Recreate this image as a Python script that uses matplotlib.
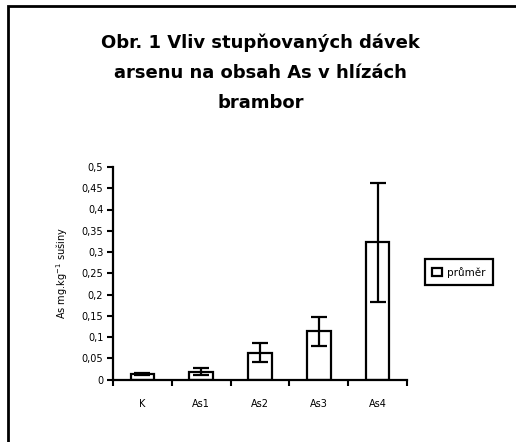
import numpy as np
from matplotlib import pyplot as plt
from matplotlib.patches import Rectangle
from matplotlib.ticker import FuncFormatter, FixedLocator

kategorie = ["K", "As1", "As2", "As3", "As4"]
prumer = [0.013, 0.018, 0.063, 0.113, 0.323]
chyba = [0.003, 0.008, 0.022, 0.035, 0.140]

y_ticky = [0, 0.05, 0.1, 0.15, 0.2, 0.25, 0.3, 0.35, 0.4, 0.45, 0.5]


def main():
    fig = plt.figure(figsize=(5.16, 4.42), dpi=100)
    # ramecek okolo celeho grafu (vidime jen levy a horni okraj)
    fig.patches.append(Rectangle((8 / 516, -0.1), 1.2, 1 - 6 / 442 + 0.1,
                                 transform=fig.transFigure, fill=False,
                                 edgecolor="black", linewidth=2))

    ax = fig.add_axes([113 / 516, 1 - 379.5 / 442, (407 - 113) / 516, (379.5 - 167) / 442])
    x = np.arange(len(kategorie))
    ax.bar(x, prumer, width=0.4, color="white", edgecolor="black", linewidth=1.6,
           label="průměr", zorder=2)
    ax.errorbar(x, prumer, yerr=chyba, fmt="none", ecolor="black", elinewidth=1.6,
                capsize=5.5, capthick=1.6, zorder=3)

    ax.set_xlim(-0.5, len(kategorie) - 0.5)
    ax.set_ylim(0, 0.5)
    ax.set_yticks(y_ticky)
    ax.yaxis.set_major_formatter(FuncFormatter(lambda v, p: ("%g" % round(v, 2)).replace(".", ",")))
    ax.set_xticks(x)
    ax.set_xticklabels(kategorie)
    ax.xaxis.set_minor_locator(FixedLocator(np.arange(-0.5, len(kategorie), 1.0)))
    ax.tick_params(axis="x", which="major", length=0, pad=14, labelsize=7)
    ax.tick_params(axis="x", which="minor", length=4, width=1.5, direction="out")
    ax.tick_params(axis="y", length=4, width=1.5, direction="out", labelsize=7, pad=3)
    for s in ["top", "right"]:
        ax.spines[s].set_visible(False)
    for s in ["left", "bottom"]:
        ax.spines[s].set_linewidth(1.6)

    ax.set_ylabel("As mg.kg$^{-1}$ sušiny", fontsize=7, labelpad=8)

    leg = ax.legend(loc="center left", bbox_to_anchor=(1.06, 0.505), frameon=True,
                    fancybox=False, fontsize=7.5, handlelength=0.9, handleheight=0.9,
                    handletextpad=0.5, borderpad=0.75, borderaxespad=0,
                    edgecolor="black", framealpha=1)
    leg.get_frame().set_linewidth(1.6)

    fig.text(0.505, 1 - 43 / 442, "Obr. 1 Vliv stupňovaných dávek", ha="center", va="center",
             fontsize=13, fontweight="bold")
    fig.text(0.505, 1 - 73 / 442, "arsenu na obsah As v hlízách", ha="center", va="center",
             fontsize=13, fontweight="bold")
    fig.text(0.505, 1 - 103 / 442, "brambor", ha="center", va="center",
             fontsize=13, fontweight="bold")

    fig.savefig("out.png", dpi=100)


if __name__ == "__main__":
    main()
